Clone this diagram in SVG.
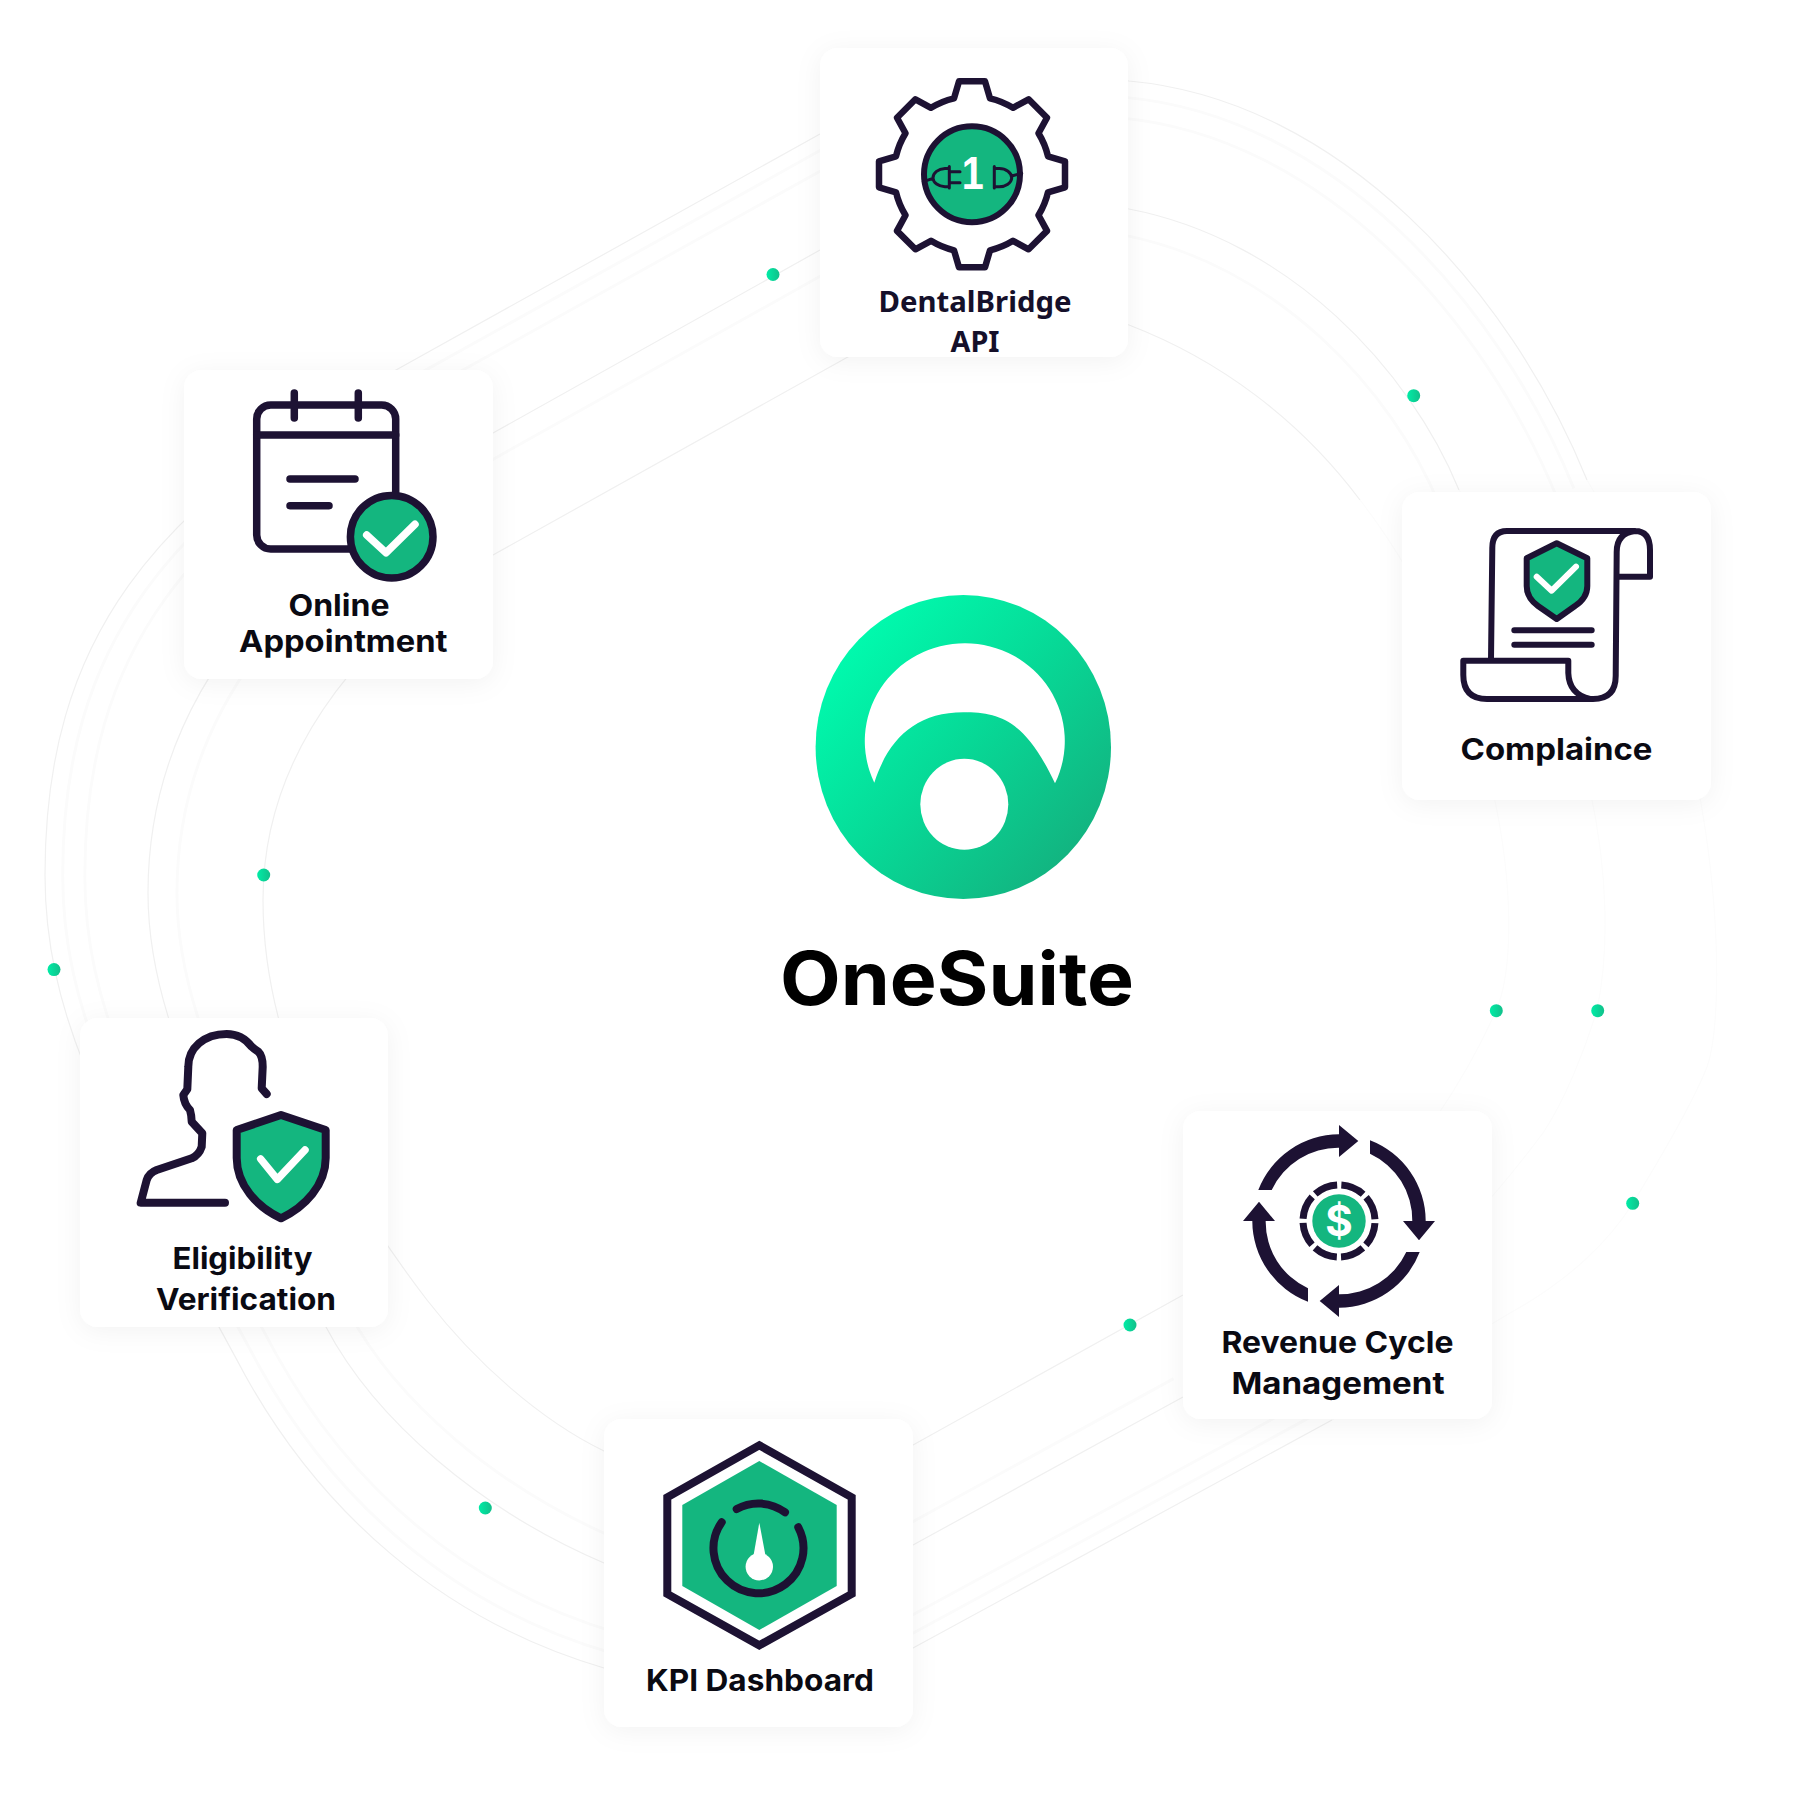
<svg xmlns="http://www.w3.org/2000/svg" width="1800" height="1800" viewBox="0 0 1800 1800">
<style>
.ln{fill:none;stroke:#f0f0f0;stroke-width:1.2}
.lf{fill:none;stroke:#fcfcfc;stroke-width:1.2}
.fz{fill:none;stroke:#fbfbfb;stroke-width:3}
.card{fill:#fff;filter:url(#sh)}
.ic{fill:none;stroke:#1d1233;stroke-width:7.5;stroke-linecap:round;stroke-linejoin:round}
.gr{fill:#14b67f}
.ck{fill:none;stroke:#fff;stroke-width:7.5;stroke-linecap:round;stroke-linejoin:round}
.nv{fill:#1d1233}
.t{font-family:Inter,"Liberation Sans",sans-serif;font-weight:700;font-size:30px;fill:#0a0a12}
.o{font-family:"Noto Sans","Open Sans",sans-serif;font-weight:700;font-size:29px;fill:#15102a}
.dot{fill:url(#dg)}
</style>
<defs>
<filter id="sh" x="-20%" y="-20%" width="140%" height="140%"><feDropShadow dx="0" dy="4" stdDeviation="13" flood-color="#000" flood-opacity=".05"/></filter>
<linearGradient id="dg"><stop offset="0" stop-color="#00ecA6"/><stop offset="1" stop-color="#12c08a"/></linearGradient>
<linearGradient id="lg" x1=".12" y1=".14" x2=".9" y2=".86"><stop offset="0" stop-color="#00fbae"/><stop offset=".5" stop-color="#07d896"/><stop offset="1" stop-color="#13b27f"/></linearGradient>
<path id="r1" d="M820 134L396 370C151 506 45 640 45 875C45 1040 130 1160 245 1375C320 1510 440 1620 604 1668C700 1695 820 1700 913 1648L1332 1420"/>
<path id="r1b" d="M1332 1420L1510 1313C1570 1280 1610 1240 1633 1203C1650 1175 1690 1110 1707 1067C1730 1000 1720 700 1587 480"/>
<path id="r1c" d="M1587 480C1510 290 1340 100 1129 81C1040 68 930 75 820 134"/>
<path id="r2" d="M820 250L493 433C300 540 148 680 148 893C148 1040 240 1180 326 1327C375 1420 480 1510 604 1563C700 1600 810 1605 913 1545L1183 1397"/>
<path id="r2b" d="M1183 1397L1400 1278C1450 1250 1500 1190 1543 1133C1565 1100 1585 1050 1597 1010C1620 900 1600 700 1459 490"/>
<path id="r2c" d="M1459 490C1410 370 1290 240 1129 209C1040 190 930 190 820 250"/>
<path id="r3" d="M846 358L493 555C380 620 263 740 263 900C263 1030 320 1160 427 1300C475 1362 540 1420 604 1451C700 1495 820 1497 913 1445L1183 1295"/>
<path id="r3b" d="M1183 1295L1370 1190C1410 1165 1465 1080 1496 1011C1530 930 1500 680 1360 500"/>
<path id="r3c" d="M1360 500C1300 420 1220 360 1129 325C1040 295 930 310 846 358"/>
<path id="ar" d="M-80.7 -31A86.7 86.7 0 0 1 0 -86.7L0 -96L19.3 -80L0 -64L0 -73.3A73.3 73.3 0 0 0 -67.3 -31Z"/>
</defs>
<rect width="1800" height="1800" fill="#fff"/>
<g id="connectors">
<g transform="translate(930 900) scale(.98) translate(-930 -900)" class="fz"><use href="#r1"/><use href="#r1c"/></g>
<g transform="translate(930 900) scale(.955) translate(-930 -900)" class="fz"><use href="#r1"/><use href="#r1c"/></g>
<g transform="translate(930 900) scale(.963) translate(-930 -900)" class="fz"><use href="#r2"/><use href="#r2c"/></g>
<g class="ln"><use href="#r1"/><use href="#r1c"/><use href="#r2"/><use href="#r2c"/><use href="#r3"/><use href="#r3c"/></g>
<g class="lf"><use href="#r1b"/><use href="#r2b"/><use href="#r3b"/></g>
</g>
<g id="dots">
<circle class="dot" cx="773" cy="274.5" r="6.5"/>
<circle class="dot" cx="1413.7" cy="395.7" r="6.5"/>
<circle class="dot" cx="263.7" cy="875" r="6.5"/>
<circle class="dot" cx="54" cy="969.6" r="6.5"/>
<circle class="dot" cx="1496.3" cy="1010.7" r="6.5"/>
<circle class="dot" cx="1597.7" cy="1010.7" r="6.5"/>
<circle class="dot" cx="1632.7" cy="1203.3" r="6.5"/>
<circle class="dot" cx="1130" cy="1325" r="6.5"/>
<circle class="dot" cx="485.3" cy="1508" r="6.5"/>
</g>
<g id="onesuite">
<ellipse cx="963.3" cy="747" rx="147.7" ry="152" fill="url(#lg)"/>
<path fill="#fff" d="M874.3 782.7A100 97.8 0 1 1 1055 783.3C1025 720 1000 712.3 963.3 712.3C915 712.3 888 740 874.3 782.7Z"/>
<ellipse cx="964.3" cy="804.3" rx="44" ry="45.5" fill="#fff"/>
<text x="780" y="1005" font-family="Inter,'Liberation Sans',sans-serif" font-weight="700" font-size="74" fill="#000" textLength="354" lengthAdjust="spacingAndGlyphs">OneSuite</text>
</g>
<g id="dentalbridge">
<rect class="card" x="820" y="48" width="308" height="309" rx="18"/>
<g transform="translate(972 174.3)">
<path class="ic" style="stroke-width:6.5" d="M-18 -76L-13 -93L13 -93L18 -76A78 78 0 0 1 41 -66.5L56.6 -75L75 -56.6L66.5 -41A78 78 0 0 1 76 -18L93 -13L93 13L76 18A78 78 0 0 1 66.5 41L75 56.6L56.6 75L41 66.5A78 78 0 0 1 18 76L13 93L-13 93L-18 76A78 78 0 0 1 -41 66.5L-56.6 75L-75 56.6L-66.5 41A78 78 0 0 1 -76 18L-93 13L-93 -13L-76 -18A78 78 0 0 1 -66.5 -41L-75 -56.6L-56.6 -75L-41 -66.5A78 78 0 0 1 -18 -76Z"/>
<circle r="48" class="gr" stroke="#1d1233" stroke-width="6"/>
</g>
<text x="972.7" y="189.3" text-anchor="middle" font-family="'Liberation Sans',sans-serif" font-weight="700" font-size="47" fill="#fff" textLength="22" lengthAdjust="spacingAndGlyphs">1</text>
<path class="ic" style="stroke-width:3" d="M949.3 166.5V188M949.3 168.5H945A12.5 9.5 0 0 0 933 178A12.5 9 0 0 0 945 186.7H949.3M949.3 171.7H960M949.3 182.7H960M933 178.3L923.3 181.7M994.3 166.5V188M994.3 168.5H999A12.5 9.5 0 0 1 1011.7 178A12.5 9 0 0 1 999 186.7H994.3M1011.7 176L1021.7 173.3"/>
<text class="o" x="878.5" y="311.7" textLength="193" lengthAdjust="spacingAndGlyphs">DentalBridge</text>
<text class="o" x="950.5" y="351.5" textLength="49" lengthAdjust="spacingAndGlyphs">API</text>
</g>
<g id="online-appointment">
<rect class="card" x="184" y="370" width="309" height="309" rx="18"/>
<rect class="ic" x="256.7" y="405" width="139" height="144" rx="14"/>
<path class="ic" d="M294.3 393V418M358.3 393V418M256.7 435H395.7M290 479H355M290 505.7H329"/>
<circle cx="391.7" cy="536.7" r="41.3" class="gr" stroke="#1d1233" stroke-width="7.5"/>
<path class="ck" d="M366.7 535L386 552.7L415 524.3"/>
<text class="t" x="288.5" y="615.5" textLength="101" lengthAdjust="spacingAndGlyphs">Online</text>
<text class="t" x="239" y="652" textLength="208.5" lengthAdjust="spacingAndGlyphs">Appointment</text>
</g>
<g id="compliance">
<rect class="card" x="1402" y="492" width="309" height="308" rx="18"/>
<path class="ic" style="stroke-width:6" d="M1491 660L1492.3 548Q1492.3 531 1507 531L1635 531Q1650 531 1650 550L1650 576.7L1617 576.7M1635 531Q1616.7 533 1616.7 552L1615.7 676Q1615.7 699 1593 699L1487 699Q1463.3 699 1463.3 675L1463.3 660.7L1568.3 660.7L1568.3 673Q1569 694 1590 699M1514.3 630.3H1591.7M1514.3 644.7H1591.7"/>
<path class="gr" stroke="#1d1233" stroke-width="6" stroke-linejoin="round" d="M1556.7 543.3L1587.3 558.3L1587.3 586Q1587.3 598 1575 606L1556.7 619L1538 606Q1526.7 598 1526.7 586L1526.7 558.3Z"/>
<path class="ck" style="stroke-width:6" d="M1536.7 576.7L1551.7 590.7L1576 566.7"/>
<text class="t" x="1460.5" y="760" textLength="192" lengthAdjust="spacingAndGlyphs">Complaince</text>
</g>
<g id="eligibility">
<rect class="card" x="80" y="1018" width="308" height="309" rx="18"/>
<path class="ic" style="stroke-width:8" d="M266.7 1094L261.7 1088.3L262.7 1066.7Q262.7 1056 258.3 1051.7Q254 1049 251.7 1046.7C245 1038 236 1034 226.7 1034C204 1034 188.3 1048 188.3 1066.7L187.3 1089.3L183.3 1095Q184 1104 190 1110Q191.7 1116 191.7 1121.7L202.3 1133.3L201.7 1146.7Q199 1155 191.7 1158.3L156.7 1170Q149 1173 146.7 1180L140.7 1202.7H225"/>
<path class="gr" stroke="#1d1233" stroke-width="8" stroke-linejoin="round" d="M281 1115L325.7 1130L325.7 1158C325.7 1185 305 1207 281 1218.3C257 1207 236.7 1185 236.7 1158L236.7 1130Z"/>
<path class="ck" d="M260.7 1159L277.3 1179.3L305 1150"/>
<text class="t" x="172.5" y="1268.5" textLength="140" lengthAdjust="spacingAndGlyphs">Eligibility</text>
<text class="t" x="156" y="1309.5" textLength="180" lengthAdjust="spacingAndGlyphs">Verification</text>
</g>
<g id="revenue-cycle">
<rect class="card" x="1183" y="1111" width="309" height="308" rx="18"/>
<g transform="translate(1339 1221)">
<use href="#ar" class="nv"/><use href="#ar" class="nv" transform="rotate(90)"/><use href="#ar" class="nv" transform="rotate(180)"/><use href="#ar" class="nv" transform="rotate(270)"/>
<circle r="36" fill="none" stroke="#1d1233" stroke-width="7" stroke-dasharray="24 4.27" stroke-dashoffset="-2.13"/>
<circle r="26.7" class="gr"/>
</g>
<text x="1339" y="1236" text-anchor="middle" font-family="Inter,'Liberation Sans',sans-serif" font-weight="700" font-size="42" fill="#fff">$</text>
<text class="t" x="1221.5" y="1353" textLength="232" lengthAdjust="spacingAndGlyphs">Revenue Cycle</text>
<text class="t" x="1231.5" y="1394" textLength="213" lengthAdjust="spacingAndGlyphs">Management</text>
</g>
<g id="kpi-dashboard">
<rect class="card" x="604" y="1419" width="309" height="308" rx="18"/>
<path fill="none" stroke="#1d1233" stroke-width="8" stroke-linejoin="miter" d="M759.3 1445.3L851.7 1497.3V1594L759.3 1645.3L667.3 1594V1497.3Z"/>
<path class="gr" d="M759.3 1461L836.7 1505V1586L759.3 1630L682.3 1586V1505Z"/>
<path class="ic" style="stroke-width:8" d="M736.7 1509A45 45 0 0 1 785 1512.3M721.7 1522.3A45 45 0 1 0 798.3 1527.3"/>
<path fill="#fff" d="M759.3 1522.7L765.7 1556.7H753.3Z"/>
<circle cx="759.3" cy="1566.7" r="13.7" fill="#fff"/>
<text class="t" x="646" y="1691" textLength="228" lengthAdjust="spacingAndGlyphs">KPI Dashboard</text>
</g>
</svg>
